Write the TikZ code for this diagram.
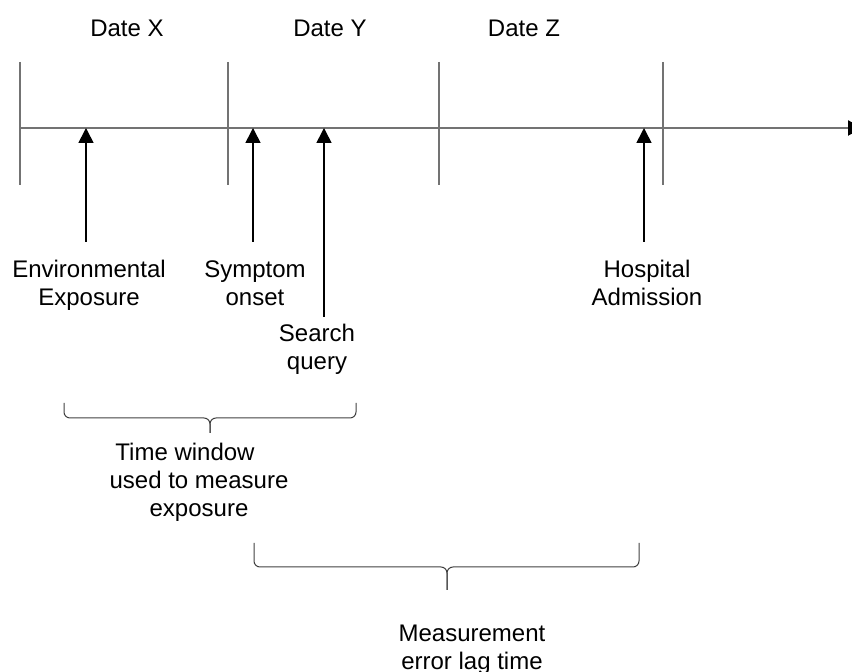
\documentclass[tikz,border=0pt]{standalone}
\usepackage{fontspec}
\setmainfont{Liberation Sans}
\usepackage{tikz}
\usetikzlibrary{calc,positioning,arrows.meta}

\begin{document}
\begin{tikzpicture}[x=0.5pt,y=0.5pt,
		every node/.style={font=\fontsize{12}{14}\selectfont,inner sep=0pt},
		evlabel/.style={anchor=north,align=center},
		timeline/.style={draw=black!55,line width=1pt},
		evarrow/.style={draw=black,line width=0.8pt,-{Triangle[length=7.5pt,width=7.5pt]}},
		window/.style={draw=black!75,line width=0.5pt,rounded corners=3pt}]
		\useasboundingbox (0,0) rectangle (852,-672);

		% time axis
		\coordinate (start) at (20,-128);
		\coordinate (stop) at (863,-128);
		\draw[timeline,-{Triangle[length=7.5pt,width=7.5pt,black]}] (start) -- (stop);
		\draw[timeline] (20,-62) -- (20,-185) (228,-62) -- (228,-185)
			(439,-62) -- (439,-185) (663,-62) -- (663,-185);
		\node[anchor=base] (datex) at (127,-37) {Date X};
		\node[anchor=base] (datey) at (330,-37) {Date Y};
		\node[anchor=base] (datez) at (524,-37) {Date Z};

		% events
		\coordinate (envtime) at (86,-128);
		\coordinate (envfoot) at (86,-242);
		\node[evlabel] (env) at (89,-259.5) {Environmental\\Exposure};
		\draw[evarrow] (envfoot) -- (envtime);

		\coordinate (symtime) at (253,-128);
		\coordinate (symfoot) at (253,-242);
		\node[evlabel] (sym) at (255,-260.5) {Symptom\\onset};
		\draw[evarrow] (symfoot) -- (symtime);

		\coordinate (qrytime) at (324,-128);
		\coordinate (qryfoot) at (324,-317);
		\node[evlabel] (qry) at (317,-323.5) {Search\\query};
		\draw[evarrow] (qryfoot) -- (qrytime);

		\coordinate (hosptime) at (644,-128);
		\coordinate (hospfoot) at (644,-242);
		\node[evlabel] (hosp) at (647,-259.5) {Hospital\\Admission};
		\draw[evarrow] (hospfoot) -- (hosptime);

		% braces
		\coordinate (winl) at (64,-403);
		\coordinate (winr) at (356,-403);
		\coordinate (wintip) at (210,-433);
		\draw[window] (winl) |- ($(wintip)+(0,15)$) -- (wintip);
		\draw[window] (winr) |- ($(wintip)+(0,15)$) -- (wintip);
		\node[evlabel] (win) at (199,-442.5) {Time window\hspace*{14pt}\\used to measure\\exposure};

		\coordinate (lagl) at (254,-543);
		\coordinate (lagr) at (639,-543);
		\coordinate (lagtip) at (447,-590);
		\draw[window] (lagl) |- ($(lagtip)+(0,23)$) -- (lagtip);
		\draw[window] (lagr) |- ($(lagtip)+(0,23)$) -- (lagtip);
		\node[evlabel] (lag) at (472,-624.5) {Measurement\\error lag time};
	\end{tikzpicture}
\end{document}
